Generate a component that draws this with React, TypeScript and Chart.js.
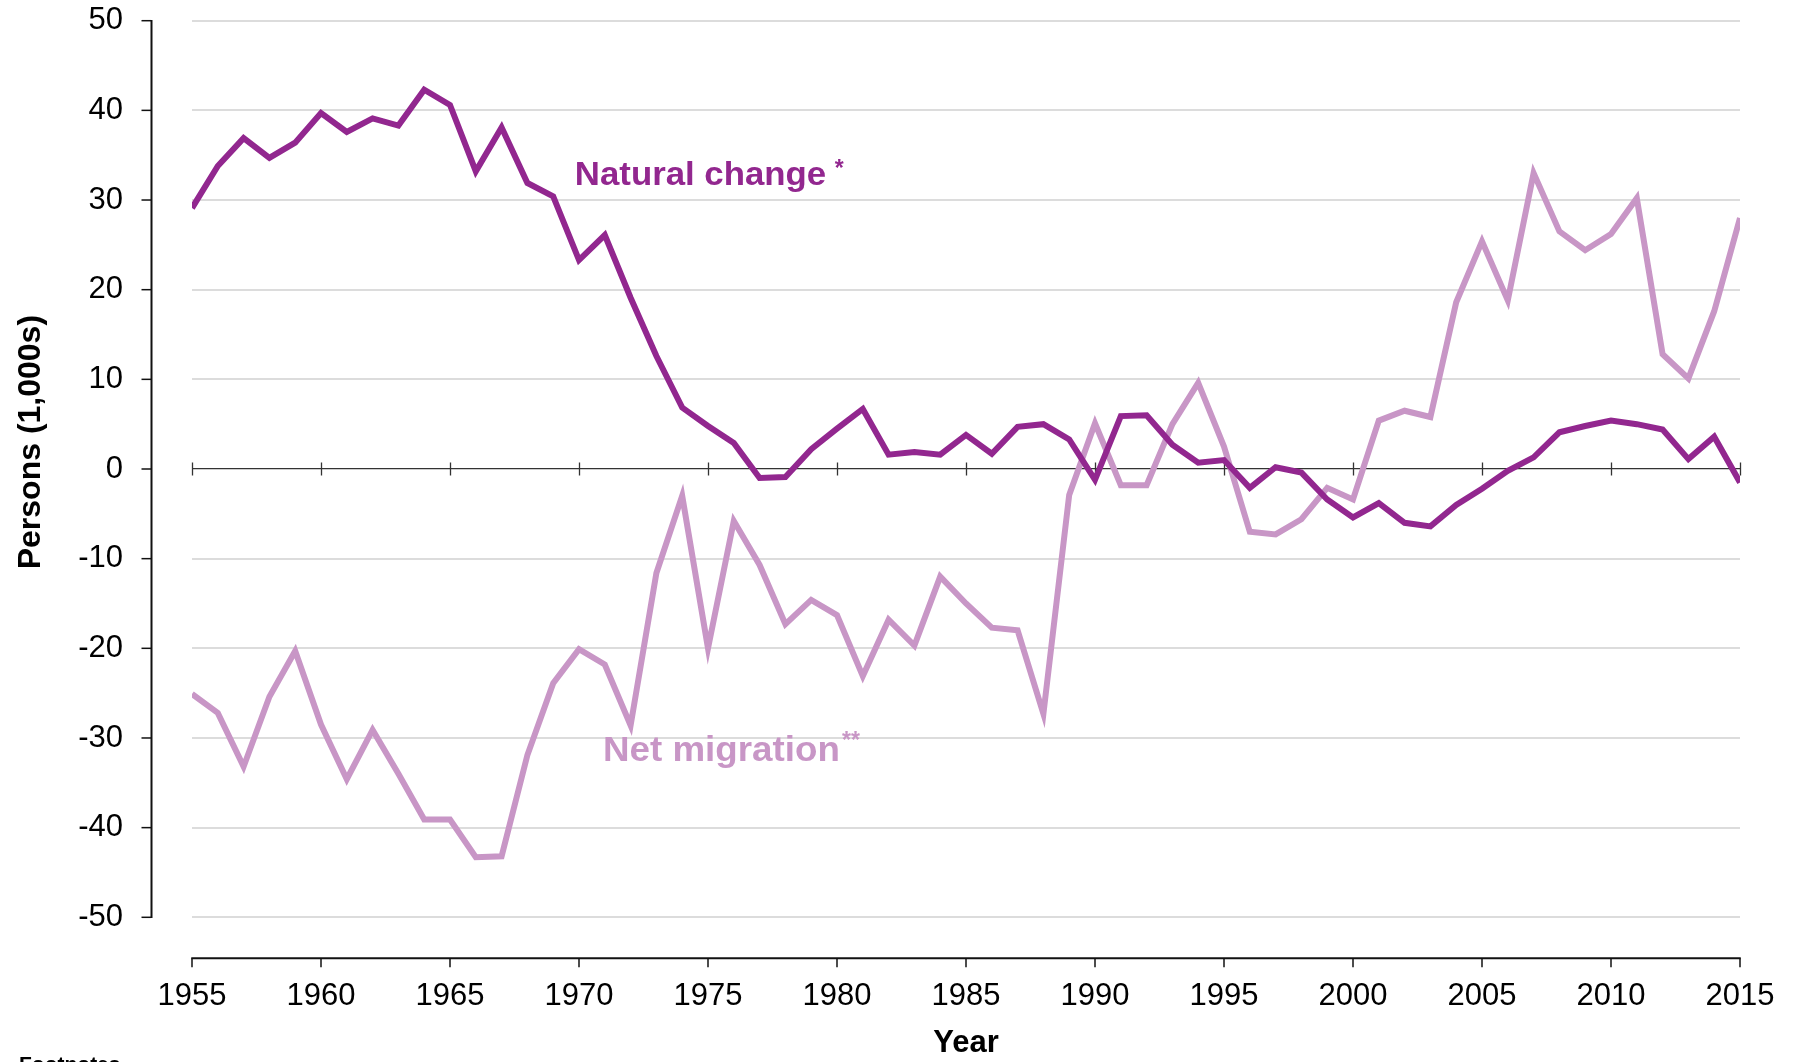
import React, { useEffect, useRef } from "react";
import { Chart, registerables } from "chart.js";

Chart.register(...registerables);

const FONT = '"Liberation Sans", Arial, Helvetica, sans-serif';

const years = [
  1955, 1956, 1957, 1958, 1959, 1960, 1961, 1962, 1963, 1964,
  1965, 1966, 1967, 1968, 1969, 1970, 1971, 1972, 1973, 1974,
  1975, 1976, 1977, 1978, 1979, 1980, 1981, 1982, 1983, 1984,
  1985, 1986, 1987, 1988, 1989, 1990, 1991, 1992, 1993, 1994,
  1995, 1996, 1997, 1998, 1999, 2000, 2001, 2002, 2003, 2004,
  2005, 2006, 2007, 2008, 2009, 2010, 2011, 2012, 2013, 2014,
  2015,
];

const naturalChange = [
  29.1, 33.8, 36.9, 34.7, 36.4, 39.7, 37.6, 39.1, 38.3, 42.3,
  40.6, 33.2, 38.1, 31.9, 30.4, 23.3, 26.1, 19.1, 12.6, 6.85,
  4.8, 2.9, -1.0, -0.9, 2.2, 4.5, 6.7, 1.6, 1.9, 1.6,
  3.8, 1.7, 4.7, 5.0, 3.3, -1.2, 5.9, 6.0, 2.7, 0.7,
  1.0, -2.1, 0.2, -0.4, -3.4, -5.4, -3.8, -6.0, -6.4, -4.0,
  -2.2, -0.2, 1.3, 4.1, 4.8, 5.4, 5.0, 4.4, 1.1, 3.6,
  -1.5,
];

const netMigration = [
  -25.1, -27.2, -33.2, -25.4, -20.3, -28.5, -34.6, -29.1, -34.0, -39.1,
  -39.1, -43.3, -43.2, -31.9, -23.9, -20.1, -21.8, -28.6, -11.6, -3.0,
  -20.0, -5.8, -10.7, -17.3, -14.6, -16.3, -23.1, -16.8, -19.7, -12.0,
  -15.0, -17.7, -18.0, -27.3, -2.9, 5.1, -1.8, -1.8, 5.0, 9.6,
  2.5, -7.0, -7.3, -5.6, -2.1, -3.4, 5.4, 6.5, 5.8, 18.6,
  25.4, 18.8, 33.0, 26.5, 24.4, 26.2, 30.2, 12.8, 10.1, 17.6,
  28.0,
];

const seriesNames = ["Natural change", "Net migration"];
const seriesMarks = ["*", "**"];
const yAxisTitle = "Persons (1,000s)";
const xAxisTitle = "Year";
const footnoteTitle = "Footnotes";

const NATURAL_COLOR = "#92278F";
const MIGRATION_COLOR = "#C896C6";

const decorPlugin = {
  id: "decor",
  beforeDatasetsDraw(chart: any) {
    const ctx = chart.ctx;
    const xs = chart.scales.x;
    const ys = chart.scales.y;
    const zy = ys.getPixelForValue(0);
    ctx.save();
    ctx.strokeStyle = "#333333";
    ctx.lineWidth = 1.3;
    xs.ticks.forEach((t: any) => {
      const px = Math.round(xs.getPixelForValue(t.value)) + 0.5;
      ctx.beginPath();
      ctx.moveTo(px, zy - 6.5);
      ctx.lineTo(px, zy + 6.5);
      ctx.stroke();
    });
    ctx.restore();
  },
  afterDraw(chart: any) {
    const ctx = chart.ctx;
    const { left, right, bottom } = chart.chartArea;
    const xs = chart.scales.x;
    const ys = chart.scales.y;
    ctx.save();
    // y axis line with ticks
    const axX = left - 40.5;
    ctx.strokeStyle = "#111111";
    ctx.lineWidth = 2;
    ctx.beginPath();
    ctx.moveTo(axX, ys.getPixelForValue(ys.max) - 0.75);
    ctx.lineTo(axX, ys.getPixelForValue(ys.min) + 0.75);
    ctx.stroke();
    ctx.lineWidth = 1.5;
    ys.ticks.forEach((t: any) => {
      const py = ys.getPixelForValue(t.value);
      ctx.beginPath();
      ctx.moveTo(axX - 10, py);
      ctx.lineTo(axX, py);
      ctx.stroke();
    });
    // bottom x axis line with ticks
    const axY = bottom + 41;
    ctx.lineWidth = 2;
    ctx.beginPath();
    ctx.moveTo(left - 0.75, axY);
    ctx.lineTo(right + 0.75, axY);
    ctx.stroke();
    ctx.lineWidth = 1.5;
    xs.ticks.forEach((t: any) => {
      const px = xs.getPixelForValue(t.value);
      ctx.beginPath();
      ctx.moveTo(px, axY);
      ctx.lineTo(px, axY + 9);
      ctx.stroke();
    });

    // series labels
    const drawLabel = (
      text: string,
      mark: string,
      xVal: number,
      yVal: number,
      size: number,
      sx: number,
      markDx: number,
      markDy: number,
      color: string
    ) => {
      const px = xs.getPixelForValue(xVal);
      const py = ys.getPixelForValue(yVal);
      ctx.save();
      ctx.fillStyle = color;
      ctx.textAlign = "left";
      ctx.textBaseline = "alphabetic";
      ctx.translate(px, py);
      ctx.scale(sx, 1);
      ctx.font = `bold ${size}px ${FONT}`;
      ctx.fillText(text, 0, 0);
      ctx.restore();
      ctx.save();
      ctx.fillStyle = color;
      ctx.textAlign = "left";
      ctx.textBaseline = "alphabetic";
      ctx.font = `bold 23px ${FONT}`;
      ctx.fillText(mark, px + markDx, py + markDy);
      ctx.restore();
    };
    drawLabel(seriesNames[0], seriesMarks[0], 1969.84, 31.67, 32.5, 1.07, 260, -9, NATURAL_COLOR);
    drawLabel(seriesNames[1], seriesMarks[1], 1970.93, -32.6, 35, 1.05, 239, -13, MIGRATION_COLOR);

    // y axis title
    ctx.save();
    ctx.fillStyle = "#000000";
    ctx.font = `bold 32px ${FONT}`;
    ctx.textAlign = "center";
    ctx.textBaseline = "middle";
    ctx.translate(31, ys.getPixelForValue(3.0));
    ctx.rotate(-Math.PI / 2);
    ctx.fillText(yAxisTitle, 0, 0);
    ctx.restore();

    // footnotes heading (cut off at the bottom)
    ctx.save();
    ctx.fillStyle = "#000000";
    ctx.font = `bold 21px ${FONT}`;
    ctx.textAlign = "left";
    ctx.textBaseline = "top";
    ctx.fillText(footnoteTitle, 19, 1055);
    ctx.restore();

    ctx.restore();
  },
};

export default function App() {
  const canvasRef = useRef<HTMLCanvasElement | null>(null);

  useEffect(() => {
    const canvas = canvasRef.current;
    if (!canvas) return;
    const chart = new Chart(canvas, {
      type: "line",
      data: {
        datasets: [
          {
            label: seriesNames[0],
            data: years.map((yr, i) => ({ x: yr, y: naturalChange[i] })),
            borderColor: NATURAL_COLOR,
            backgroundColor: NATURAL_COLOR,
            borderWidth: 6,
            pointRadius: 0,
            tension: 0,
            fill: false,
          },
          {
            label: seriesNames[1],
            data: years.map((yr, i) => ({ x: yr, y: netMigration[i] })),
            borderColor: MIGRATION_COLOR,
            backgroundColor: MIGRATION_COLOR,
            borderWidth: 6,
            pointRadius: 0,
            tension: 0,
            fill: false,
          },
        ],
      },
      options: {
        responsive: false,
        animation: false,
        devicePixelRatio: 1,
        layout: { padding: { left: 0, top: 20.7, right: 54, bottom: 0 } },
        plugins: {
          legend: { display: false },
          tooltip: { enabled: false },
          title: { display: false },
        },
        scales: {
          x: {
            type: "linear",
            min: 1955,
            max: 2015,
            grid: { display: false, drawTicks: false },
            border: { display: false },
            ticks: {
              stepSize: 5,
              autoSkip: false,
              maxRotation: 0,
              padding: 61,
              color: "#000000",
              font: { family: FONT, size: 31 },
              callback: (v: any) => String(v),
            },
            title: {
              display: true,
              text: xAxisTitle,
              color: "#000000",
              font: { family: FONT, size: 31, weight: "bold" },
              padding: { top: 0, bottom: 0 },
            },
            afterFit: (scale: any) => {
              scale.height = 144.7;
              scale.paddingLeft = 0;
              scale.paddingRight = 0;
            },
          },
          y: {
            type: "linear",
            min: -50,
            max: 50,
            grid: {
              drawTicks: false,
              color: (c: any) => (c.tick && c.tick.value === 0 ? "#333333" : "#DCDCDC"),
              lineWidth: (c: any) => (c.tick && c.tick.value === 0 ? 1.3 : 2),
            },
            border: { display: false },
            ticks: {
              stepSize: 10,
              padding: 69,
              color: "#000000",
              font: { family: FONT, size: 31 },
            },
            afterFit: (scale: any) => {
              scale.width = 192;
              scale.paddingTop = 0;
              scale.paddingBottom = 0;
            },
          },
        },
      },
      plugins: [decorPlugin],
    });
    return () => chart.destroy();
  }, []);

  return (
    <div style={{ position: "fixed", left: 0, top: 0, width: 1794, height: 1062, background: "#ffffff" }}>
      <canvas ref={canvasRef} width={1794} height={1062} style={{ width: 1794, height: 1062, display: "block" }} />
    </div>
  );
}
